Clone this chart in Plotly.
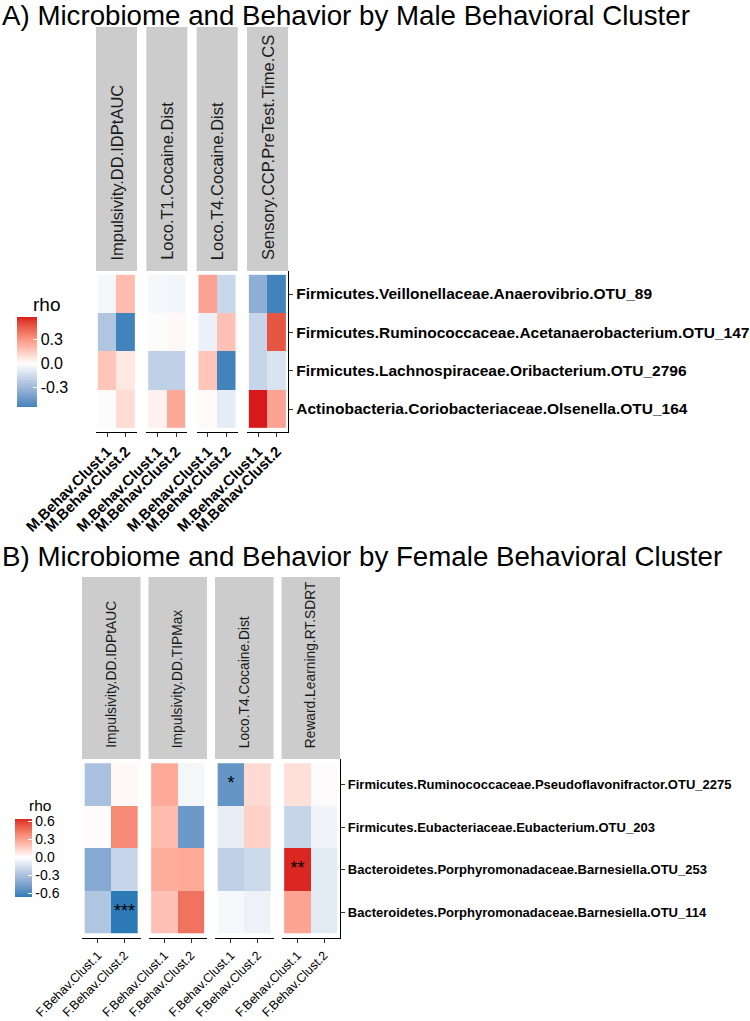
import plotly.graph_objects as go

W, H = 750, 1021

# ---------------- Panel A data ----------------
A_TITLE = "A) Microbiome and Behavior by Male Behavioral Cluster"
A_FACETS = ["Impulsivity.DD.IDPtAUC", "Loco.T1.Cocaine.Dist",
            "Loco.T4.Cocaine.Dist", "Sensory.CCP.PreTest.Time.CS"]
A_CLUSTERS = ["M.Behav.Clust.1", "M.Behav.Clust.2"]
A_TAXA = ["Firmicutes.Veillonellaceae.Anaerovibrio.OTU_89",
          "Firmicutes.Ruminococcaceae.Acetanaerobacterium.OTU_147",
          "Firmicutes.Lachnospiraceae.Oribacterium.OTU_2796",
          "Actinobacteria.Coriobacteriaceae.Olsenella.OTU_164"]
# rows = taxa, columns = clusters
A_IMPULSIVITY_IDPT = [[-0.03, 0.20], [-0.25, -0.55], [0.17, 0.07], [0.00, 0.10]]
A_LOCO_T1 = [[-0.03, -0.04], [0.00, 0.02], [-0.20, -0.20], [0.04, 0.25]]
A_LOCO_T4 = [[0.27, -0.17], [-0.06, 0.18], [0.17, -0.55], [0.01, -0.08]]
A_SENSORY = [[-0.35, -0.55], [-0.18, 0.48], [-0.18, -0.12], [0.59, 0.27]]
A_VALUES = [A_IMPULSIVITY_IDPT, A_LOCO_T1, A_LOCO_T4, A_SENSORY]
A_STARS = [[["", ""]] * 4] * 4
A_LEGEND_TICKS = [0.3, 0.0, -0.3]
A_LEGEND_LABELS = ["0.3", "0.0", "-0.3"]

# ---------------- Panel B data ----------------
B_TITLE = "B) Microbiome and Behavior by Female Behavioral Cluster"
B_FACETS = ["Impulsivity.DD.IDPtAUC", "Impulsivity.DD.TIPMax",
            "Loco.T4.Cocaine.Dist", "Reward.Learning.RT.SDRT"]
B_CLUSTERS = ["F.Behav.Clust.1", "F.Behav.Clust.2"]
B_TAXA = ["Firmicutes.Ruminococcaceae.Pseudoflavonifractor.OTU_2275",
          "Firmicutes.Eubacteriaceae.Eubacterium.OTU_203",
          "Bacteroidetes.Porphyromonadaceae.Barnesiella.OTU_253",
          "Bacteroidetes.Porphyromonadaceae.Barnesiella.OTU_114"]
B_IMPULSIVITY_IDPT = [[-0.30, 0.02], [0.00, 0.38], [-0.42, -0.20], [-0.28, -0.66]]
B_IMPULSIVITY_TIP = [[0.28, -0.04], [0.22, -0.50], [0.27, 0.28], [0.20, 0.45]]
B_LOCO_T4 = [[-0.52, 0.12], [-0.08, 0.15], [-0.22, -0.18], [-0.03, -0.06]]
B_REWARD = [[0.10, 0.00], [-0.20, -0.05], [0.64, -0.10], [0.30, -0.10]]
B_VALUES = [B_IMPULSIVITY_IDPT, B_IMPULSIVITY_TIP, B_LOCO_T4, B_REWARD]
B_STARS_IDPT = [["", ""], ["", ""], ["", ""], ["", "***"]]
B_STARS_TIP = [["", ""], ["", ""], ["", ""], ["", ""]]
B_STARS_LOCO = [["*", ""], ["", ""], ["", ""], ["", ""]]
B_STARS_REWARD = [["", ""], ["", ""], ["**", ""], ["", ""]]
B_STARS = [B_STARS_IDPT, B_STARS_TIP, B_STARS_LOCO, B_STARS_REWARD]
B_LEGEND_TICKS = [0.6, 0.3, 0.0, -0.3, -0.6]
B_LEGEND_LABELS = ["0.6", "0.3", "0.0", "-0.3", "-0.6"]

LOW, MID, HIGH = "#2C7BB6", "#FFFFFF", "#D7191C"
SANS = "Liberation Sans, Arial, Helvetica, sans-serif"


# ---------------- colour helpers (Lab interpolation like scales) ----------------
def hex_to_rgb(h):
    h = h.lstrip("#")
    return tuple(int(h[i:i + 2], 16) for i in (0, 2, 4))


def rgb_to_lab(rgb):
    def lin(c):
        c = c / 255
        return ((c + 0.055) / 1.055) ** 2.4 if c > 0.04045 else c / 12.92
    r, g, b = (lin(c) for c in rgb)
    X = (r * 0.4124 + g * 0.3576 + b * 0.1805) / 0.95047
    Y = r * 0.2126 + g * 0.7152 + b * 0.0722
    Z = (r * 0.0193 + g * 0.1192 + b * 0.9505) / 1.08883

    def f(t):
        return t ** (1 / 3) if t > 0.008856 else 7.787 * t + 16 / 116
    fx, fy, fz = f(X), f(Y), f(Z)
    return (116 * fy - 16, 500 * (fx - fy), 200 * (fy - fz))


def lab_to_rgb(lab):
    L, a, b = lab
    fy = (L + 16) / 116
    fx = fy + a / 500
    fz = fy - b / 200

    def finv(t):
        return t ** 3 if t ** 3 > 0.008856 else (t - 16 / 116) / 7.787
    X, Y, Z = finv(fx) * 0.95047, finv(fy), finv(fz) * 1.08883
    r = 3.2406 * X - 1.5372 * Y - 0.4986 * Z
    g = -0.9689 * X + 1.8758 * Y + 0.0415 * Z
    bb = 0.0557 * X - 0.2040 * Y + 1.0570 * Z

    def gam(c):
        c = min(max(c, 0), 1)
        return 1.055 * c ** (1 / 2.4) - 0.055 if c > 0.0031308 else 12.92 * c
    return tuple(int(round(gam(c) * 255)) for c in (r, g, bb))


LAB_LOW, LAB_MID, LAB_HIGH = (rgb_to_lab(hex_to_rgb(c)) for c in (LOW, MID, HIGH))


def ramp(t):
    if t <= 0.5:
        s = t / 0.5
        c0, c1 = LAB_LOW, LAB_MID
    else:
        s = (t - 0.5) / 0.5
        c0, c1 = LAB_MID, LAB_HIGH
    lab = tuple(c0[i] + (c1[i] - c0[i]) * s for i in range(3))
    return "rgb(%d,%d,%d)" % lab_to_rgb(lab)


def gradient2_scale(values):
    flat = [v for facet in values for row in facet for v in row]
    vmin, vmax = min(flat), max(flat)
    m = max(abs(vmin), abs(vmax))
    n = 40
    scale = []
    for i in range(n + 1):
        p = i / n
        v = vmin + p * (vmax - vmin)
        scale.append([p, ramp(0.5 + v / (2 * m))])
    return scale, vmin, vmax


def px_x(x):
    return x / W


def px_y(y):
    return 1 - y / H


fig = go.Figure()
layout = dict(width=W, height=H,
              margin=dict(l=0, r=0, t=0, b=0, pad=0, autoexpand=False),
              paper_bgcolor="white", plot_bgcolor="white", showlegend=False,
              shapes=[], annotations=[])

panels = [
    dict(title=A_TITLE, title_y=15, facets=A_FACETS, clusters=A_CLUSTERS, taxa=A_TAXA,
         values=A_VALUES, stars=A_STARS, left=96, step=50.33, fw=41,
         strip_top=27, top=271, bottom=432, strip_font=16.5, row_font=15.5,
         xlab_font=dict(family=SANS, size=14.8, color="black", weight="bold"),
         coloraxis="coloraxis", ticks=A_LEGEND_TICKS, ticklabels=A_LEGEND_LABELS,
         cb=dict(x=17, y=317, len=90, thick=20, font=16), rho=(46, 304, 19), star_font=18),
    dict(title=B_TITLE, title_y=556, facets=B_FACETS, clusters=B_CLUSTERS, taxa=B_TAXA,
         values=B_VALUES, stars=B_STARS, left=82, step=66.5, fw=58.5,
         strip_top=577, top=759, bottom=938, strip_font=13.8, row_font=13,
         xlab_font=dict(family=SANS, size=12.5, color="black"),
         coloraxis="coloraxis2", ticks=B_LEGEND_TICKS, ticklabels=B_LEGEND_LABELS,
         cb=dict(x=15, y=819, len=78, thick=17, font=14), rho=(40, 805, 15.5), star_font=18),
]

k = 0
for P in panels:
    scale, vmin, vmax = gradient2_scale(P["values"])
    cb = P["cb"]
    layout[P["coloraxis"]] = dict(
        colorscale=scale, cmin=vmin, cmax=vmax, showscale=True,
        colorbar=dict(x=px_x(cb["x"]), xanchor="left", y=px_y(cb["y"]), yanchor="top",
                      len=cb["len"], lenmode="pixels", thickness=cb["thick"],
                      thicknessmode="pixels", xpad=0, ypad=0, outlinewidth=0,
                      tickmode="array", tickvals=P["ticks"], ticktext=P["ticklabels"],
                      ticks="inside", ticklen=4, tickcolor="white", tickwidth=1,
                      tickfont=dict(family=SANS, size=cb["font"], color="black")))
    rx, ry, rs = P["rho"]
    layout["annotations"].append(dict(
        text="rho", x=px_x(rx), y=px_y(ry), xref="paper", yref="paper",
        xanchor="center", yanchor="middle", showarrow=False,
        font=dict(family=SANS, size=rs, color="black")))
    layout["annotations"].append(dict(
        text=P["title"], x=0, y=px_y(P["title_y"]), xref="paper", yref="paper",
        xanchor="left", yanchor="middle", showarrow=False,
        font=dict(family=SANS, size=27.7, color="black")))

    nf = len(P["facets"])
    for i, facet in enumerate(P["facets"]):
        k += 1
        sfx = "" if k == 1 else str(k)
        x0 = P["left"] + i * P["step"]
        x1 = x0 + P["fw"]
        fig.add_trace(go.Heatmap(
            z=P["values"][i], x=P["clusters"], y=P["taxa"],
            coloraxis=P["coloraxis"], xaxis="x" + sfx, yaxis="y" + sfx,
            hoverongaps=False))
        sx, sy, st = [], [], []
        for r, taxon in enumerate(P["taxa"]):
            for c, cl in enumerate(P["clusters"]):
                lab = P["stars"][i][r][c]
                if lab:
                    sx.append(cl)
                    sy.append(taxon)
                    st.append(lab)
        if st:
            fig.add_trace(go.Scatter(
                x=sx, y=sy, text=st, mode="text", textposition="middle center",
                textfont=dict(family=SANS, size=P["star_font"], color="black"),
                xaxis="x" + sfx, yaxis="y" + sfx, hoverinfo="skip"))
        last = (i == nf - 1)
        layout["xaxis" + sfx] = dict(
            domain=[px_x(x0), px_x(x1)], anchor="y" + sfx, type="category",
            range=[-0.6, 1.6], showgrid=False, zeroline=False,
            showline=True, linecolor="black", linewidth=1.2,
            tickmode="array", tickvals=P["clusters"], ticktext=P["clusters"],
            ticks="outside", ticklen=4, tickcolor="#333333", tickwidth=1,
            tickangle=-45, tickfont=P["xlab_font"], automargin=False, fixedrange=True)
        layout["yaxis" + sfx] = dict(
            domain=[px_y(P["bottom"]), px_y(P["top"])], anchor="x" + sfx,
            type="category", range=[3.6, -0.6], showgrid=False, zeroline=False,
            side="right", showline=last, linecolor="black", linewidth=1.2,
            tickmode="array", tickvals=P["taxa"], ticktext=P["taxa"],
            ticks="outside" if last else "", ticklen=4, tickcolor="#333333",
            showticklabels=last, automargin=False,
            tickfont=dict(family=SANS, size=P["row_font"], color="black", weight="bold"),
            fixedrange=True)
        # strip
        layout["shapes"].append(dict(
            type="rect", xref="paper", yref="paper", x0=px_x(x0), x1=px_x(x1),
            y0=px_y(P["top"]), y1=px_y(P["strip_top"]),
            fillcolor="#CCCCCC", line=dict(width=0), layer="below"))
        layout["annotations"].append(dict(
            text=facet, textangle=-90, x=px_x((x0 + x1) / 2), y=px_y(P["top"] - 9),
            xref="paper", yref="paper", xanchor="center", yanchor="bottom",
            showarrow=False, font=dict(family=SANS, size=P["strip_font"], color="#1A1A1A")))

fig.update_layout(**layout)
fig.write_html("out.html", config={"displayModeBar": False, "staticPlot": True},
               post_script="document.body.style.margin='0px';"
                           "document.body.style.overflow='hidden';")
